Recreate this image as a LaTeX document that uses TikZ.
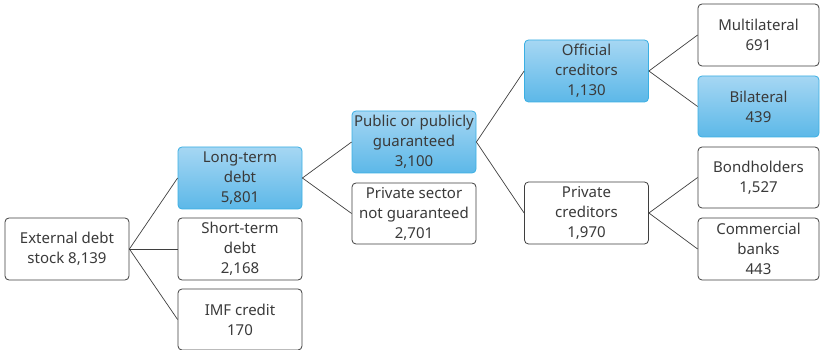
\documentclass[tikz,border=0pt]{standalone}
\usepackage{fontspec}
\setmainfont{Noto Sans}
\usepackage{tikz}
\definecolor{boxline}{HTML}{3F3F3F}
\definecolor{boxtext}{HTML}{3A3A3A}
\definecolor{hitop}{HTML}{A6D7F3}
\definecolor{hibot}{HTML}{5CB8E8}
\definecolor{hiline}{HTML}{3AAFE3}
\newcommand{\boxfont}{\fontsize{15}{20}\selectfont}
\tikzset{
  debtbox/.style={draw=boxline, line width=0.8pt, rounded corners=4pt, fill=white,
    minimum width=124pt, minimum height=62pt, inner sep=0pt, align=center,
    text=boxtext, font=\boxfont},
  hibox/.style={debtbox, draw=hiline, top color=hitop, bottom color=hibot},
  link/.style={draw=boxline, line width=0.7pt}
}

\begin{document}
\begin{tikzpicture}[x=1pt,y=-1pt]
 \useasboundingbox (0,0) rectangle (820,350);

 % first level
 \node[debtbox] (stock) at (67,249) {External debt\\stock 8,139};
 \node[hibox] (longterm) at (240,178) {Long-term\\debt\\5,801};
 \node[debtbox] (shortterm) at (240,249) {Short-term\\debt\\2,168};
 \node[debtbox, minimum height=61pt] (imf) at (240,319.5) {IMF credit\\170};

 % long-term split
 \node[hibox] (public) at (414,142) {Public or publicly\\guaranteed\\3,100};
 \node[debtbox, minimum height=61pt] (privsector) at (414,213.5) {Private sector\\not guaranteed\\2,701};

 % creditors
 \node[hibox] (official) at (586.5,71) {Official\\creditors\\1,130};
 \node[debtbox] (privcred) at (586.5,213) {Private\\creditors\\1,970};

 \node[debtbox, minimum width=121pt] (multi) at (758.5,35) {Multilateral\\691};
 \node[hibox, minimum width=121pt, minimum height=61pt] (bilateral) at (758.5,106.5) {Bilateral\\439};
 \node[debtbox, minimum width=121pt, minimum height=61pt] (bond) at (758.5,177.5) {Bondholders\\1,527};
 \node[debtbox, minimum width=121pt] (banks) at (758.5,249) {Commercial\\banks\\443};

 \draw[link] (stock.east) -- (longterm.west);
 \draw[link] (stock.east) -- (shortterm.west);
 \draw[link] (stock.east) -- (imf.west);
 \draw[link] (longterm.east) -- (public.west);
 \draw[link] (longterm.east) -- (privsector.west);
 \draw[link] (public.east) -- (official.west);
 \draw[link] (public.east) -- (privcred.west);
 \draw[link] (official.east) -- (multi.west);
 \draw[link] (official.east) -- (bilateral.west);
 \draw[link] (privcred.east) -- (bond.west);
 \draw[link] (privcred.east) -- (banks.west);

\end{tikzpicture}
\end{document}
